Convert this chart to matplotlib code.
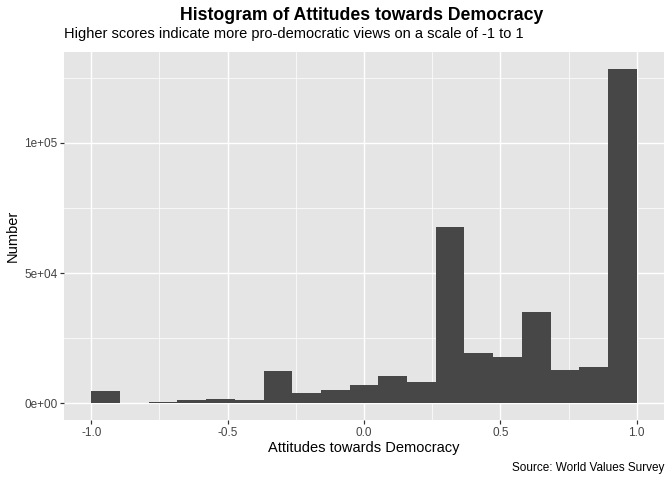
import numpy as np
import matplotlib
matplotlib.use("Agg")
import matplotlib.pyplot as plt

# ---- data ----
bin_edges = np.linspace(-1.0, 1.0, 20)
counts = [4600, 150, 400, 1150, 1500, 1150, 12300, 3950, 5000, 6900,
          10400, 8100, 67600, 19200, 17700, 35100, 12700, 13800, 128500]
x_ticks = [-1.0, -0.5, 0.0, 0.5, 1.0]
x_tick_labels = ["-1.0", "-0.5", "0.0", "0.5", "1.0"]
y_ticks = [0, 50000, 100000]
y_tick_labels = ["0e+00", "5e+04", "1e+05"]

title = "Histogram of Attitudes towards Democracy"
subtitle = "Higher scores indicate more pro-democratic views on a scale of -1 to 1"
xlabel = "Attitudes towards Democracy"
ylabel = "Number"
caption = "Source: World Values Survey"

plt.rcParams['font.family'] = ['Liberation Sans', 'DejaVu Sans']

W, H = 672, 480
DPI = 72
fig = plt.figure(figsize=(W / DPI, H / DPI), dpi=DPI, facecolor="white")

left, right, top, bottom = 64, 664, 52, 420
ax = fig.add_axes([left / W, 1 - bottom / H, (right - left) / W, (bottom - top) / H])
ax.set_facecolor("#E5E5E5")
for s in ax.spines.values():
    s.set_visible(False)

widths = np.diff(bin_edges)
ax.bar(bin_edges[:-1], counts, width=widths, align="edge", color="#474747",
       linewidth=0, zorder=3)

xmin, xmax = bin_edges[0], bin_edges[-1]
xr = xmax - xmin
ax.set_xlim(xmin - 0.05 * xr, xmax + 0.05 * xr)
ymax = max(counts)
ax.set_ylim(-0.05 * ymax, ymax * 1.05)

ax.set_xticks(x_ticks)
ax.set_xticklabels(x_tick_labels)
ax.set_yticks(y_ticks)
ax.set_yticklabels(y_tick_labels)
ax.set_xticks([-0.75, -0.25, 0.25, 0.75], minor=True)
ax.set_yticks([25000, 75000, 125000], minor=True)

ax.grid(which="major", color="white", linewidth=1.4, zorder=0)
ax.grid(which="minor", color="white", linewidth=0.7, zorder=0)
ax.set_axisbelow(True)

ax.tick_params(which="major", length=3.67, width=1.2, color="#333333",
               labelsize=11.73, labelcolor="#444444")
ax.tick_params(axis="x", which="major", pad=3.0)
ax.tick_params(axis="y", which="major", pad=3.0)
ax.tick_params(which="minor", length=0)

ax.set_xlabel(xlabel, fontsize=14.67, color="black")
ax.xaxis.set_label_coords(0.5, -(452 - bottom) / (bottom - top))
ax.xaxis.label.set_va("baseline")
ax.set_ylabel(ylabel, fontsize=14.67, color="black")
ax.yaxis.set_label_coords(-(left - 13) / (right - left), 0.5)
ax.yaxis.label.set_va("center")

fig.text(362 / W, 1 - 20 / H, title, ha="center", va="baseline",
         fontsize=17.6, fontweight="bold")
fig.text(left / W, 1 - 38 / H, subtitle, ha="left", va="baseline", fontsize=14.67)
fig.text(right / W, 1 - 471 / H, caption, ha="right", va="baseline", fontsize=11.73)

fig.savefig("out.png", dpi=DPI, facecolor="white")
